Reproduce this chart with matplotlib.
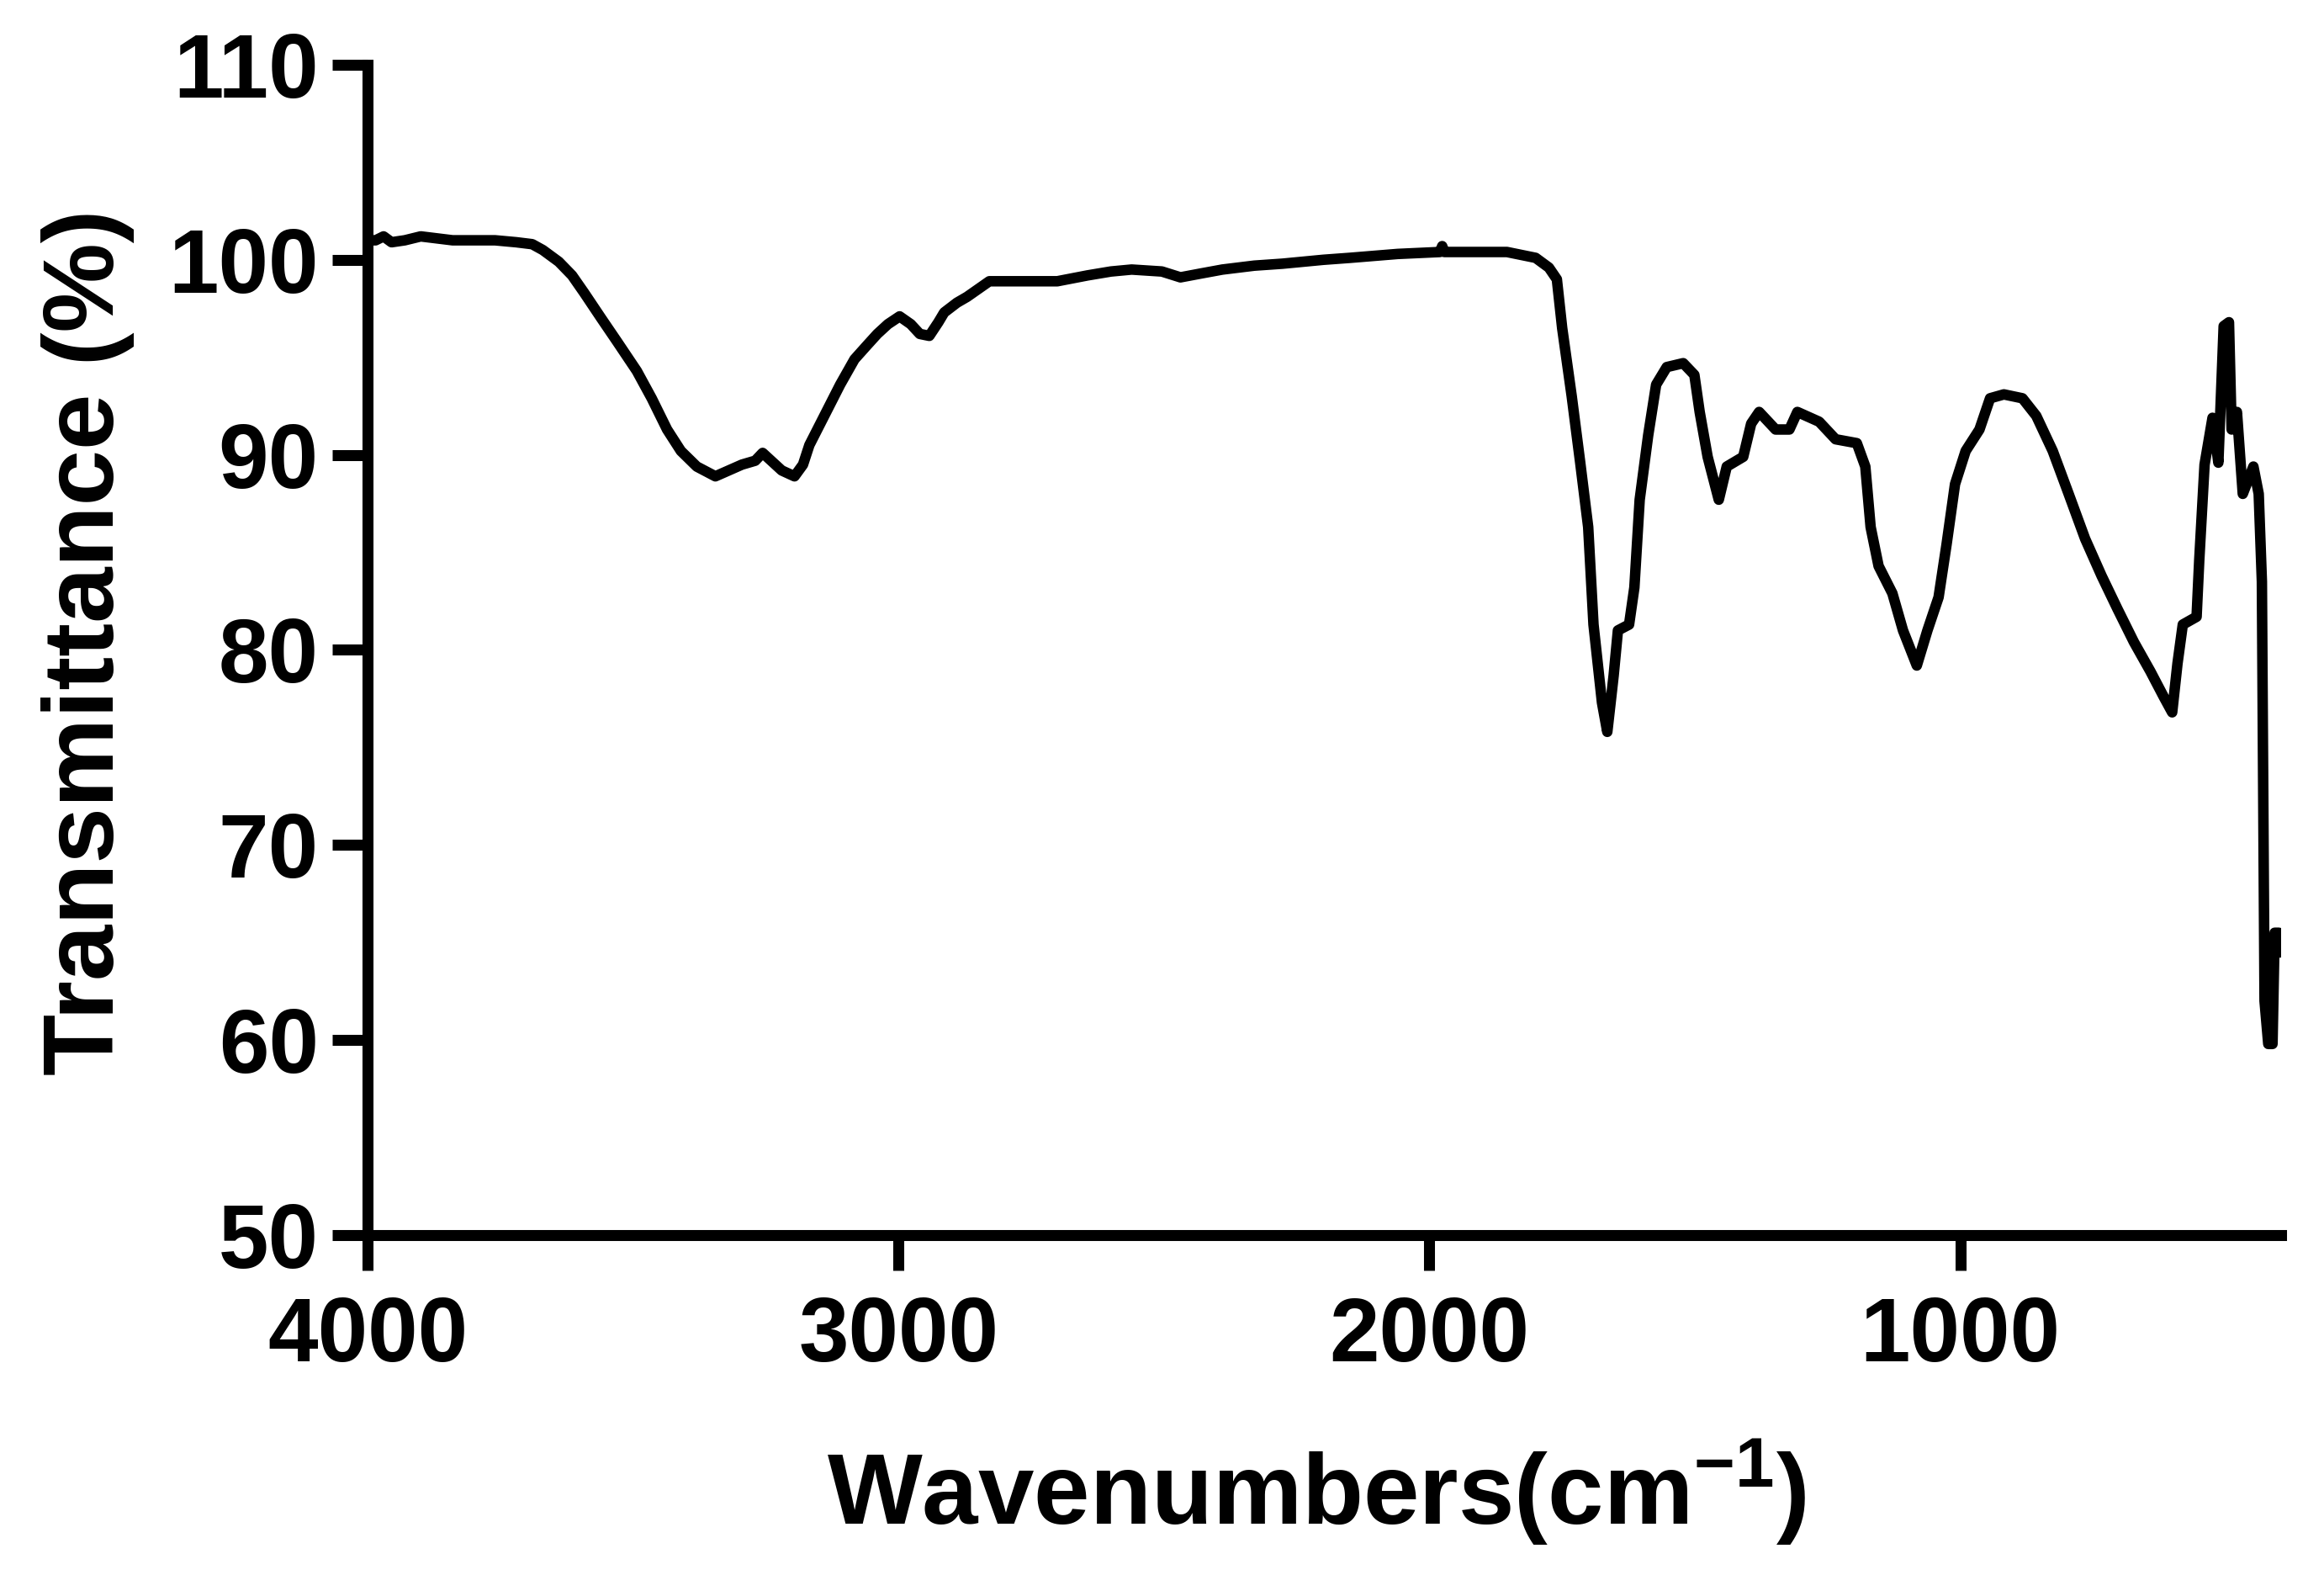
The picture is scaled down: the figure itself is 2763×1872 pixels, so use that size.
import matplotlib
matplotlib.use("Agg")
import matplotlib.pyplot as plt

plt.rcParams['font.family'] = ['Liberation Sans', 'DejaVu Sans']
plt.rcParams['font.weight'] = 'bold'
plt.rcParams['mathtext.fontset'] = 'custom'
plt.rcParams['mathtext.rm'] = 'Liberation Sans:bold'
plt.rcParams['mathtext.it'] = 'Liberation Sans:bold'
plt.rcParams['mathtext.bf'] = 'Liberation Sans:bold'

# FTIR spectrum
wavenumber = [4000, 3985, 3970, 3955, 3930, 3900, 3870, 3840, 3800, 3760, 3720, 3690,
              3670, 3640, 3615, 3592, 3560, 3530, 3493, 3465, 3436, 3410, 3380, 3345,
              3320, 3295, 3270, 3256, 3240, 3220, 3196, 3180, 3168, 3140, 3110, 3083,
              3060, 3040, 3020, 2998, 2977, 2960, 2942, 2925, 2914, 2890, 2871, 2850,
              2829, 2760, 2701, 2644, 2600, 2561, 2504, 2469, 2430, 2390, 2330, 2277,
              2200, 2150, 2060, 1980, 1976, 1972, 1921, 1854, 1800, 1775, 1760, 1750,
              1732, 1716, 1701, 1691, 1675, 1665, 1653, 1645, 1624, 1614, 1604, 1588,
              1573, 1553, 1522, 1501, 1491, 1476, 1455, 1440, 1409, 1394, 1379, 1348,
              1322, 1307, 1266, 1235, 1195, 1179, 1169, 1154, 1128, 1108, 1082, 1062,
              1041, 1026, 1010, 990, 964, 944, 918, 883, 857, 826, 796, 765,
              734, 704, 673, 642, 617, 601, 591, 581, 555, 550, 540, 525,
              514, 504, 494, 489, 479, 468, 448, 438, 432, 427, 420, 412,
              408, 400, 396]
transmittance = [101.0, 101.0, 101.2, 100.9, 101.0, 101.2, 101.1, 101.0, 101.0, 101.0, 100.9, 100.8,
                 100.5, 99.9, 99.2, 98.3, 97.0, 95.8, 94.3, 92.9, 91.3, 90.2, 89.4, 88.9,
                 89.2, 89.5, 89.7, 90.1, 89.7, 89.2, 88.9, 89.5, 90.5, 92.0, 93.6, 94.9,
                 95.6, 96.2, 96.7, 97.1, 96.7, 96.2, 96.1, 96.8, 97.3, 97.8, 98.1, 98.5,
                 98.9, 98.9, 98.9, 99.2, 99.4, 99.5, 99.4, 99.1, 99.3, 99.5, 99.7, 99.8,
                 100.0, 100.1, 100.3, 100.4, 100.7, 100.4, 100.4, 100.4, 100.1, 99.6, 99.0, 96.5,
                 93.0, 89.6, 86.3, 81.3, 77.3, 75.8, 78.7, 81.0, 81.3, 83.2, 87.7, 91.0,
                 93.6, 94.5, 94.7, 94.1, 92.2, 89.9, 87.7, 89.4, 89.9, 91.6, 92.2, 91.3,
                 91.3, 92.2, 91.7, 90.8, 90.6, 89.4, 86.3, 84.3, 82.9, 81.0, 79.2, 81.0,
                 82.7, 85.4, 88.5, 90.2, 91.3, 92.9, 93.1, 92.9, 92.0, 90.2, 88.0, 85.7,
                 83.8, 82.1, 80.4, 78.9, 77.6, 76.8, 79.3, 81.3, 81.7, 84.6, 89.5, 91.9,
                 89.6, 96.6, 96.8, 91.3, 92.2, 88.0, 89.4, 88.0, 83.5, 62.0, 59.8, 59.8,
                 65.5, 65.5, 64.5]

x_ticks = [4000, 3000, 2000, 1000]
y_ticks = [50, 60, 70, 80, 90, 100, 110]

fig = plt.figure(figsize=(27.63, 18.72), dpi=100)
ax = fig.add_axes([0.1582, 0.2158, 0.8233, 0.7431])

ax.plot(wavenumber, transmittance, color='black', linewidth=9, solid_joinstyle='round')

ax.set_xlim(4000, 396)
ax.set_ylim(50, 110)
ax.set_xticks(x_ticks)
ax.set_yticks(y_ticks)

for side in ['top', 'right']:
    ax.spines[side].set_visible(False)
for side in ['left', 'bottom']:
    ax.spines[side].set_linewidth(9.4)

ax.tick_params(axis='both', direction='out', length=30, width=9.4, labelsize=77)
ax.tick_params(axis='x', pad=22)
ax.tick_params(axis='y', pad=12)
for lab in ax.get_xticklabels() + ax.get_yticklabels():
    lab.set_fontweight('bold')

ax.set_xlabel(r'Wavenumbers(cm$^{-1}$)', fontsize=86, fontweight='bold')
ax.xaxis.set_label_coords(0.4958, -0.247)
ax.xaxis.label.set_verticalalignment('baseline')

ax.set_ylabel('Transmittance (%)', fontsize=86, fontweight='bold')
ax.yaxis.set_label_coords(-0.1327, 0.5065)
ax.yaxis.label.set_verticalalignment('baseline')

fig.savefig('out.png', dpi=100)
